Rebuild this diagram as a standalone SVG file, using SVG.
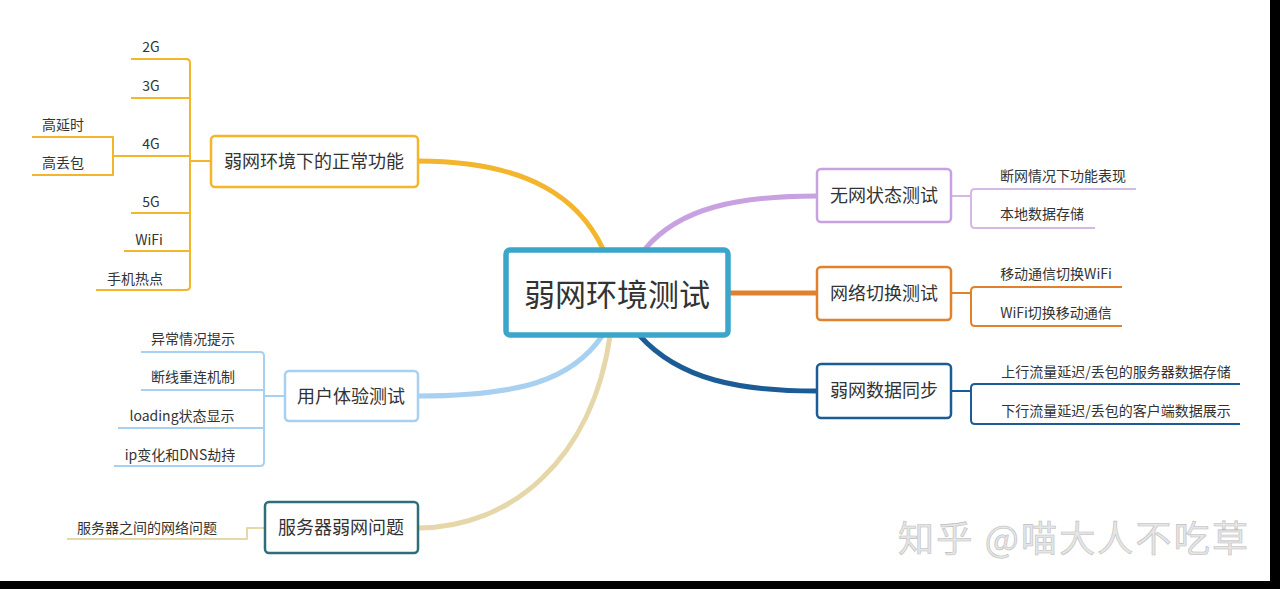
<svg xmlns="http://www.w3.org/2000/svg" width="1280" height="589" viewBox="0 0 1280 589">
<style>
text{font-family:"Noto Sans CJK SC","Noto Sans",sans-serif;fill:#333}
.sub{font-size:14px;text-anchor:middle}
.node{font-size:18px;text-anchor:middle}
.box{fill:#fff;stroke-width:2.5}
.br{fill:none;stroke-width:2;stroke-linejoin:round}
.main{fill:none;stroke-width:5;stroke-linecap:round}
.wm{font-size:36px;fill:#e6e6e6;stroke:#bdbdbd;stroke-width:0.6}
</style>
<rect x="0" y="0" width="1280" height="589" fill="#fff"/>
<g id="connectors">
  <path class="main" stroke="#F2B52B" d="M418,161 C530,161 580,200 603,249"/>
  <path class="main" stroke="#C8A2E0" d="M645,249 C680,207 740,196 817,196"/>
  <path class="main" stroke="#E2812D" d="M729,293 L817,293"/>
  <path class="main" stroke="#1B5B96" d="M640,336 C680,380 740,391 817,391"/>
  <path class="main" stroke="#A8D0F0" d="M602,336 C572,380 520,396 418,396"/>
  <path class="main" stroke="#E6D7AA" d="M610,336 C592,460 510,528 418,528"/>
  <g stroke="#F2B52B" class="br">
    <path d="M131,59 H186 Q190,59 190,63 V286 Q190,290 186,290 H96"/>
    <path d="M131,98 H190"/>
    <path d="M113,156 H190"/>
    <path d="M131,213 H190"/>
    <path d="M124,251 H190"/>
    <path d="M190,161 H211"/>
    <path d="M32,137 H113 V175 H32"/>
  </g>
  <g stroke="#A8D0F0" class="br">
    <path d="M141,352 H260 Q264,352 264,356 V462 Q264,466 260,466 H114"/>
    <path d="M141,390 H264"/>
    <path d="M118,428 H264"/>
    <path d="M264,396 H285"/>
  </g>
  <g stroke="#E6D7AA" class="br">
    <path d="M265,528 H247 V539 H67"/>
  </g>
  <g stroke="#D5B9E5" class="br">
    <path d="M1136,189 H975 Q971,189 971,193 V224 Q971,228 975,228 H1095"/>
    <path d="M951,196 H971"/>
  </g>
  <g stroke="#E2812D" class="br">
    <path d="M1122,287 H975 Q971,287 971,291 V322 Q971,326 975,326 H1122"/>
    <path d="M951,293 H971"/>
  </g>
  <g stroke="#1B5B96" class="br">
    <path d="M1240,384 H975 Q971,384 971,388 V420 Q971,424 975,424 H1240"/>
    <path d="M951,391 H971"/>
  </g>
</g>
<g id="center">
  <rect x="506" y="250" width="222" height="85" rx="4" fill="#fff" stroke="#3BA6C9" stroke-width="5.5"/>
  <text x="617" y="306" font-size="31" text-anchor="middle">弱网环境测试</text>
</g>
<g id="n-normal">
  <rect class="box" x="211" y="136" width="207" height="51" rx="4" stroke="#F2B52B"/>
  <text class="node" x="314" y="168">弱网环境下的正常功能</text>
  <text class="sub" x="151" y="52">2G</text>
  <text class="sub" x="151" y="91">3G</text>
  <text class="sub" x="151" y="149">4G</text>
  <text class="sub" x="151" y="207">5G</text>
  <text class="sub" x="149" y="245">WiFi</text>
  <text class="sub" x="135" y="284">手机热点</text>
  <text class="sub" x="63" y="130">高延时</text>
  <text class="sub" x="63" y="168">高丢包</text>
</g>
<g id="n-ux">
  <rect class="box" x="285" y="371" width="133" height="50" rx="4" stroke="#A8D0F0"/>
  <text class="node" x="351" y="403">用户体验测试</text>
  <text class="sub" x="193" y="344">异常情况提示</text>
  <text class="sub" x="193" y="382">断线重连机制</text>
  <text class="sub" x="182" y="421">loading状态显示</text>
  <text class="sub" x="180" y="460">ip变化和DNS劫持</text>
</g>
<g id="n-server">
  <rect class="box" x="265" y="502" width="153" height="51" rx="4" stroke="#2C6E7A"/>
  <text class="node" x="341" y="534">服务器弱网问题</text>
  <text class="sub" x="147" y="533">服务器之间的网络问题</text>
</g>
<g id="n-nonet">
  <rect class="box" x="817" y="169" width="134" height="53" rx="4" stroke="#C8A2E0"/>
  <text class="node" x="884" y="202">无网状态测试</text>
  <text class="sub" x="1063" y="181">断网情况下功能表现</text>
  <text class="sub" x="1042" y="219">本地数据存储</text>
</g>
<g id="n-switch">
  <rect class="box" x="817" y="267" width="134" height="53" rx="4" stroke="#E2812D"/>
  <text class="node" x="884" y="300">网络切换测试</text>
  <text class="sub" x="1056" y="279">移动通信切换WiFi</text>
  <text class="sub" x="1056" y="318">WiFi切换移动通信</text>
</g>
<g id="n-sync">
  <rect class="box" x="817" y="364" width="134" height="54" rx="4" stroke="#1B5B96"/>
  <text class="node" x="884" y="397">弱网数据同步</text>
  <text class="sub" x="1116" y="377">上行流量延迟/丢包的服务器数据存储</text>
  <text class="sub" x="1116" y="416">下行流量延迟/丢包的客户端数据展示</text>
</g>
<g id="watermark">
  <text class="wm" x="898" y="552" textLength="350" lengthAdjust="spacing">知乎 @喵大人不吃草</text>
</g>
<rect x="1270" y="0" width="10" height="589" fill="#000"/>
<rect x="0" y="581" width="1280" height="8" fill="#000"/>
</svg>
